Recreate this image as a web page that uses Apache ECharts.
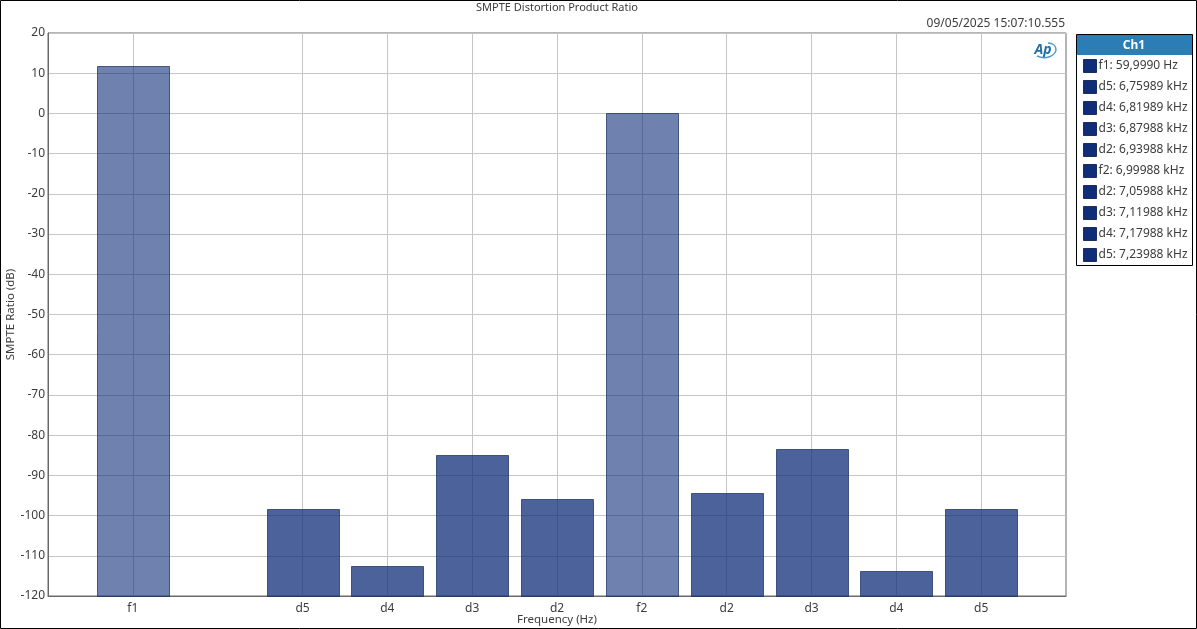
<!DOCTYPE html>
<html>
<head>
<meta charset="utf-8">
<title>SMPTE Distortion Product Ratio</title>
<script src="https://cdn.jsdelivr.net/npm/echarts@6/dist/echarts.min.js"></script>
<style>
  html, body { margin: 0; padding: 0; background: #fff; }
  #chart { width: 1197px; height: 629px; }
</style>
</head>
<body>
<div id="chart"></div>
<script>
// blank slots keep the gap after f1 and the margins at both ends
const categories = ['', 'f1', '', 'd5', 'd4', 'd3', 'd2', 'f2', 'd2', 'd3', 'd4', 'd5', ''];
const barSlots = [1, 3, 4, 5, 6, 7, 8, 9, 10, 11];
const barValues = [11.7, -98.4, -112.5, -85, -95.9, 0, -94.4, -83.5, -113.8, -98.4];
const legendLabels = [
  'f1: 59,9990 Hz',
  'd5: 6,75989 kHz',
  'd4: 6,81989 kHz',
  'd3: 6,87988 kHz',
  'd2: 6,93988 kHz',
  'f2: 6,99988 kHz',
  'd2: 7,05988 kHz',
  'd3: 7,11988 kHz',
  'd4: 7,17988 kHz',
  'd5: 7,23988 kHz'
];

const FONT = '"Noto Sans", "Open Sans", sans-serif';
const TEXT_COLOR = '#3c3c3c';
const SWATCH = '#0f2d78';
const Y_MIN = -120;
const BAR_WIDTH = 72;

const chart = echarts.init(document.getElementById('chart'), null, { renderer: 'canvas' });

// bars hang from the bottom of the axis, not from 0, so they are custom rects
function renderBar(params, api) {
  const top = api.coord([api.value(0), api.value(1)]);
  const bottom = api.coord([api.value(0), Y_MIN]);
  return {
    type: 'rect',
    shape: {
      x: Math.round(top[0] - BAR_WIDTH / 2) + 0.5,
      y: Math.round(top[1]) + 0.5,
      width: BAR_WIDTH,
      height: Math.round(bottom[1] - top[1])
    },
    style: api.style()
  };
}

const series = legendLabels.map((name, i) => {
  const isFundamental = name.charAt(0) === 'f';
  return {
    name: name,
    type: 'custom',
    renderItem: renderBar,
    encode: { x: 0, y: 1 },
    data: [[barSlots[i], barValues[i]]],
    z: 3,
    itemStyle: {
      color: isFundamental ? 'rgba(15,45,120,0.6)' : 'rgba(15,45,120,0.75)',
      borderColor: 'rgba(30,50,100,0.75)',
      borderWidth: 1
    },
    emphasis: { disabled: true }
  };
});

const option = {
  animation: false,
  textStyle: { fontFamily: FONT },
  title: [
    {
      text: 'SMPTE Distortion Product Ratio',
      left: 557,
      top: 0,
      padding: [2, 0, 0, 0],
      textAlign: 'center',
      textStyle: { fontSize: 11, fontWeight: 'normal', color: TEXT_COLOR, fontFamily: FONT }
    },
    {
      text: '09/05/2025 15:07:10.555',
      right: 132,
      top: 18,
      padding: 0,
      textStyle: { fontSize: 12, fontWeight: 'normal', color: TEXT_COLOR, fontFamily: FONT }
    }
  ],
  grid: {
    left: 48,
    right: 131,
    top: 33,
    bottom: 33,
    outerBoundsMode: 'none',
    show: true,
    borderColor: '#6a6a6a',
    borderWidth: 1,
    backgroundColor: '#fff'
  },
  legend: {
    orient: 'vertical',
    left: 1083,
    top: 59,
    padding: 0,
    itemWidth: 13,
    itemHeight: 13,
    itemGap: 7,
    selectedMode: false,
    icon: 'rect',
    itemStyle: { color: SWATCH, borderColor: '#1c2f5c', borderWidth: 1, opacity: 1 },
    textStyle: { fontSize: 12, color: TEXT_COLOR, fontFamily: FONT, padding: [0, 0, 0, -3] },
    data: legendLabels
  },
  xAxis: {
    type: 'category',
    data: categories,
    boundaryGap: false,
    name: 'Frequency (Hz)',
    nameLocation: 'middle',
    nameGap: 18,
    nameMoveOverlap: false,
    nameTextStyle: { fontSize: 11.5, color: TEXT_COLOR },
    axisLine: { onZero: false, lineStyle: { color: '#6a6a6a' } },
    axisTick: { show: false },
    axisLabel: {
      interval: 0,
      margin: 7,
      fontSize: 12,
      color: TEXT_COLOR
    },
    splitLine: {
      show: true,
      interval: (index, value) => value !== '',
      lineStyle: { color: '#c6c6c6', width: 1 }
    }
  },
  yAxis: {
    type: 'value',
    min: Y_MIN,
    max: 20,
    interval: 10,
    name: 'SMPTE Ratio (dB)',
    nameLocation: 'middle',
    nameGap: 31,
    nameMoveOverlap: false,
    nameTextStyle: { fontSize: 11.5, color: TEXT_COLOR },
    axisLine: { show: true, lineStyle: { color: '#6a6a6a' } },
    axisTick: { show: false },
    axisLabel: { margin: 3, fontSize: 12, color: TEXT_COLOR, padding: [2, 0, 0, 0] },
    splitLine: { show: true, lineStyle: { color: '#c6c6c6', width: 1 } }
  },
  series: series,
  graphic: [
    // picture frame
    {
      type: 'rect',
      silent: true,
      z: 0,
      shape: { x: 0.5, y: 0.5, width: 1196, height: 628 },
      style: { fill: null, stroke: '#000', lineWidth: 1 }
    },
    // legend box and Ch1 header
    {
      type: 'rect',
      silent: true,
      z: 0,
      shape: { x: 1076.5, y: 34.5, width: 116, height: 231 },
      style: { fill: '#fff', stroke: '#000', lineWidth: 1 }
    },
    {
      type: 'rect',
      silent: true,
      z: 1,
      shape: { x: 1077, y: 35, width: 115, height: 20 },
      style: { fill: '#2a7db5' }
    },
    {
      type: 'text',
      silent: true,
      z: 2,
      x: 1134,
      y: 46,
      style: {
        text: 'Ch1',
        fill: '#fff',
        font: 'bold 12px ' + FONT,
        textAlign: 'center',
        textVerticalAlign: 'middle'
      }
    },
    // AP mark
    {
      type: 'bezierCurve',
      silent: true,
      z: 5,
      shape: { x1: 1037, y1: 56, cpx1: 1046, cpy1: 60, x2: 1056, y2: 50, cpx2: 1055, cpy2: 56 },
      style: { fill: null, stroke: '#4a9ccf', lineWidth: 1.5 }
    },
    {
      type: 'bezierCurve',
      silent: true,
      z: 5,
      shape: { x1: 1048, y1: 43, cpx1: 1053, cpy1: 43, x2: 1056, y2: 50, cpx2: 1056, cpy2: 46 },
      style: { fill: null, stroke: '#4a9ccf', lineWidth: 1.5 }
    },
    {
      type: 'text',
      silent: true,
      z: 6,
      x: 1043,
      y: 50,
      style: {
        text: 'Ap',
        fill: '#1f6fa8',
        font: 'italic bold 14px ' + FONT,
        textAlign: 'center',
        textVerticalAlign: 'middle'
      }
    }
  ]
};

chart.setOption(option);
</script>
</body>
</html>
